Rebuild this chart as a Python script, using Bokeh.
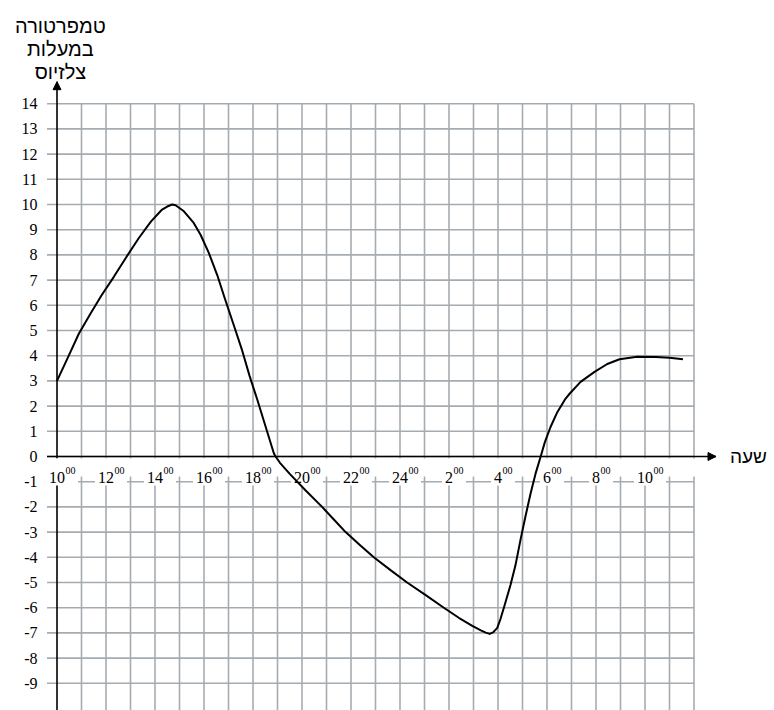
from bokeh.plotting import figure
from bokeh.models import Range1d, Arrow, NormalHead, ColumnDataSource
from bokeh.core.properties import value
from bokeh.embed import file_html
from bokeh.resources import INLINE

# ---------------- data (hours after 10:00, temperature in °C) ----------------
hours = [0, 0.48, 0.89, 1.37, 1.82, 2.32, 2.84, 3.34, 3.84, 4.29, 4.5, 4.7, 4.84,
         5.18, 5.58, 5.86, 6.2, 6.54, 6.85, 7.22, 7.56, 7.86, 8.17, 8.51, 8.85,
         8.92, 9.1, 9.5, 10.15, 10.82, 11.3, 11.78, 12.35, 12.93, 13.6, 14.29,
         15.05, 15.79, 16.4, 16.95, 17.3, 17.5, 17.66, 17.8, 17.97, 18.1, 18.24,
         18.51, 18.71, 18.92, 19.12, 19.33, 19.53, 19.73, 19.91, 20.14, 20.42,
         20.76, 20.93, 21.37, 21.94, 22.46, 22.96, 23.68, 24.45, 25.0, 25.55]
temps = [3.0, 4.0, 4.87, 5.67, 6.4, 7.13, 7.93, 8.67, 9.33, 9.8, 9.92, 10.0, 9.97,
         9.73, 9.27, 8.8, 8.07, 7.2, 6.27, 5.2, 4.2, 3.2, 2.27, 1.2, 0.13,
         0.0, -0.25, -0.69, -1.35, -2.0, -2.5, -3.0, -3.5, -4.0, -4.5, -5.0,
         -5.5, -6.0, -6.4, -6.72, -6.9, -6.99, -7.04, -6.98, -6.8, -6.45, -6.0,
         -5.1, -4.33, -3.3, -2.38, -1.47, -0.69, -0.04, 0.56, 1.16, 1.76,
         2.3, 2.5, 2.96, 3.36, 3.67, 3.86, 3.96, 3.95, 3.92, 3.86]

y_ticks = list(range(-9, 15))
y_tick_labels = [str(v) for v in y_ticks]
x_ticks = [0, 2, 4, 6, 8, 10, 12, 14, 16, 18, 20, 22, 24]
x_tick_labels = ["10", "12", "14", "16", "18", "20", "22", "24", "2", "4", "6", "8", "10"]
x_tick_sup = "00"
grid_x = list(range(1, 27))
grid_top = 14
title_lines = ["טמפרטורה", "במעלות", "צלזיוס"]
x_title = "שעה"

# ---------------- layout ----------------
W, H = 774, 710
SX, SY = 24.5, 25.2          # px per hour, px per degree
X0 = -56.5 / SX              # data x at left frame edge
Y1 = 456 / SY                # data y at top frame edge
X1 = X0 + W / SX
Y0 = Y1 - H / SY


def px(v):   # horizontal pixel length -> data units
    return v / SX


def py(v):   # vertical pixel length -> data units
    return v / SY


p = figure(width=W, height=H, x_range=Range1d(X0, X1), y_range=Range1d(Y0, Y1),
           output_backend="svg", toolbar_location=None,
           x_axis_type=None, y_axis_type=None, min_border=0)
p.min_border_left = p.min_border_right = p.min_border_top = p.min_border_bottom = 0
p.outline_line_color = None
p.xgrid.visible = False
p.ygrid.visible = False

GRID = "#a5acb1"
SERIF = value("Times New Roman")
HEB = value("Liberation Sans")

# grid
left_tick = -px(10)
p.segment(x0=[left_tick] * len(y_ticks), x1=[grid_x[-1]] * len(y_ticks),
          y0=y_ticks, y1=y_ticks, line_color=GRID, line_width=1.6)
p.segment(x0=grid_x, x1=grid_x, y0=[Y0] * len(grid_x), y1=[grid_top] * len(grid_x),
          line_color=GRID, line_width=1.6)

# axes lines
x_axis_end = grid_x[-1] + px(22)
y_axis_end = grid_top + py(22)
p.segment(x0=[left_tick], x1=[x_axis_end], y0=[0], y1=[0], line_color="black", line_width=1.6)
p.segment(x0=[0], x1=[0], y0=[Y0], y1=[y_axis_end], line_color="black", line_width=1.6)
p.add_layout(Arrow(end=NormalHead(size=8, fill_color="black", line_color="black", line_width=1),
                   x_start=x_axis_end - px(4), y_start=0, x_end=x_axis_end, y_end=0,
                   line_color="black", line_width=1.6))
p.add_layout(Arrow(end=NormalHead(size=8, fill_color="black", line_color="black", line_width=1),
                   x_start=0, y_start=y_axis_end - py(4), x_end=0, y_end=y_axis_end,
                   line_color="black", line_width=1.6))

# white label band below the x-axis
p.quad(left=[left_tick - px(2)], right=[grid_x[-1] + px(1)], top=[-py(2)], bottom=[-py(20)],
       fill_color="white", line_color=None)
ndig = [len(s) for s in x_tick_labels]
box_left = [x - px(n * 4 + 3) for x, n in zip(x_ticks, ndig)]
box_right = [x + px(n * 4 + 13) for x, n in zip(x_ticks, ndig)]
p.quad(left=box_left, right=box_right, top=[-py(2)] * len(x_ticks),
       bottom=[-py(29)] * len(x_ticks), fill_color="white", line_color=None)

# x tick labels with superscript
src = ColumnDataSource(dict(x=x_ticks, t=x_tick_labels, s=[x_tick_sup] * len(x_ticks),
                            off=[n * 4 + 0.5 for n in ndig]))
p.text(x="x", y=-py(21), text="t", source=src, text_align="center",
       text_baseline="alphabetic", text_font=SERIF, text_font_size="16px", text_color="black")
p.text(x="x", y=-py(14), text="s", x_offset="off", source=src, text_align="left",
       text_baseline="alphabetic", text_font=SERIF, text_font_size="10px", text_color="black")

# y tick labels
p.text(x=[-px(19.5)] * len(y_ticks), y=y_ticks, text=y_tick_labels, text_align="right",
       text_baseline="middle", text_font=SERIF, text_font_size="16px", text_color="black")

# titles
p.text(x=[0.14] * 3, y=[Y1 - py(25), Y1 - py(48.3), Y1 - py(71.7)], text=title_lines,
       text_align="center", text_baseline="alphabetic", text_font=HEB,
       text_font_size="20px", text_color="black")
p.text(x=[x_axis_end + px(14)], y=[0], text=[x_title], text_align="left",
       text_baseline="middle", text_font=HEB, text_font_size="19px", text_color="black")

# curve
p.line(hours, temps, line_color="black", line_width=2, line_join="round")

open("out.html", "w").write(file_html(p, INLINE))
